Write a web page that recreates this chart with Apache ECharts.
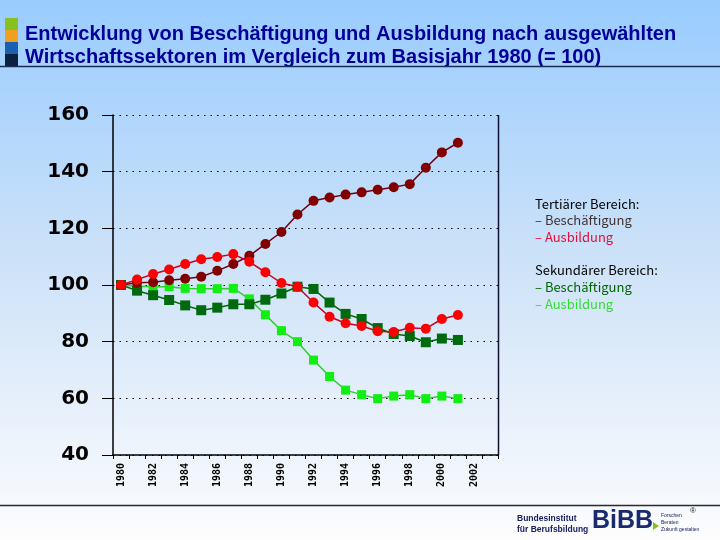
<!DOCTYPE html>
<html>
<head>
<meta charset="utf-8">
<script src="https://cdn.jsdelivr.net/npm/echarts@6/dist/echarts.min.js"></script>
<style>
html,body{margin:0;padding:0;}
#chart{width:720px;height:540px;}
</style>
</head>
<body>
<div id="chart"></div>
<script>
// Categories (years) and tick labels
const years = ['1980','1981','1982','1983','1984','1985','1986','1987','1988','1989','1990','1991','1992','1993','1994','1995','1996','1997','1998','1999','2000','2001','2002','2003'];
const yTicks = [40, 60, 80, 100, 120, 140, 160];

// Series values (index 1980 = 100), 1980..2001
const tertiaerBeschaeftigung = [100, 100.8, 101.0, 101.7, 102.2, 102.9, 105.0, 107.4, 110.3, 114.5, 118.7, 124.9, 129.7, 130.9, 131.9, 132.7, 133.6, 134.5, 135.6, 141.4, 146.8, 150.2];
const tertiaerAusbildung = [100, 101.9, 103.9, 105.5, 107.4, 109.1, 109.9, 110.9, 108.2, 104.5, 100.7, 99.4, 93.8, 88.8, 86.5, 85.5, 83.7, 83.4, 84.9, 84.6, 88.0, 89.4];
const sekundaerBeschaeftigung = [100, 98.0, 96.4, 94.7, 92.8, 91.1, 92.0, 93.2, 93.2, 94.8, 97.0, 99.4, 98.6, 93.8, 89.8, 88.0, 84.8, 82.7, 82.0, 79.8, 81.1, 80.6];
const sekundaerAusbildung = [100, 99.6, 99.4, 99.4, 98.8, 98.7, 98.7, 98.8, 95.1, 89.5, 83.9, 80.0, 73.5, 67.7, 62.9, 61.3, 59.9, 60.8, 61.3, 59.9, 60.8, 59.9];

const titleLines = ['Entwicklung von Beschäftigung und Ausbildung nach ausgewählten', 'Wirtschaftssektoren im Vergleich zum Basisjahr 1980 (= 100)'];

const chart = echarts.init(document.getElementById('chart'), null, {renderer: 'canvas'});

function lineSeries(name, data, lineColor, markColor, symbol, size) {
  return {
    name: name, type: 'line', data: data,
    symbol: symbol, symbolSize: size,
    lineStyle: {color: lineColor, width: 1.5},
    itemStyle: {color: markColor},
    emphasis: {disabled: true},
    animation: false
  };
}

const legendFont = '"Noto Sans CJK JP", "Noto Sans", sans-serif';

const option = {
  backgroundColor: {
    type: 'linear', x: 0, y: 0, x2: 0, y2: 1,
    colorStops: [
      {offset: 0, color: '#99ccff'},
      {offset: 0.5, color: '#cfe3f8'},
      {offset: 0.93, color: '#f6f9fd'},
      {offset: 1, color: '#fdfdfd'}
    ]
  },
  animation: false,
  grid: {left: 113, right: 222, top: 115, bottom: 85, containLabel: false},
  xAxis: {
    type: 'category', data: years, boundaryGap: true,
    axisLine: {lineStyle: {color: '#000', width: 1.5}},
    axisTick: {show: true, interval: 0, length: 4, lineStyle: {color: '#000'}},
    axisLabel: {interval: 1, rotate: 90, margin: 8, fontSize: 10, fontWeight: 'bold', color: '#000', fontFamily: '"DejaVu Sans Mono", monospace'},
    splitLine: {show: false}
  },
  yAxis: {
    type: 'value', min: yTicks[0], max: yTicks[yTicks.length - 1], interval: 20,
    axisLine: {show: true, lineStyle: {color: '#000', width: 1.5}},
    axisTick: {show: true, length: 11, lineStyle: {color: '#000'}},
    axisLabel: {margin: 24, fontSize: 20, fontWeight: 'bold', color: '#000', fontFamily: '"DejaVu Sans", sans-serif'},
    splitLine: {show: true, lineStyle: {color: '#000', width: 1, type: [1.5, 5]}}
  },
  series: [
    lineSeries('Sekundär Ausbildung', sekundaerAusbildung, '#33cc33', '#11ee11', 'rect', 9),
    lineSeries('Sekundär Beschäftigung', sekundaerBeschaeftigung, '#006600', '#006a10', 'rect', 10),
    lineSeries('Tertiär Beschäftigung', tertiaerBeschaeftigung, '#700010', '#800000', 'circle', 10),
    lineSeries('Tertiär Ausbildung', tertiaerAusbildung, '#cc0022', '#ff0000', 'circle', 10)
  ],
  graphic: [
    // colour blocks at title
    {type: 'rect', shape: {x: 5, y: 18, width: 13, height: 12}, style: {fill: '#88c020'}},
    {type: 'rect', shape: {x: 5, y: 30, width: 13, height: 12}, style: {fill: '#f0a020'}},
    {type: 'rect', shape: {x: 5, y: 42, width: 13, height: 12}, style: {fill: '#1a60b0'}},
    {type: 'rect', shape: {x: 5, y: 54, width: 13, height: 12}, style: {fill: '#0a2040'}},
    {type: 'text', left: 25, top: 24, style: {text: titleLines[0], fill: '#000099', font: 'bold 20px "Liberation Sans", sans-serif'}},
    {type: 'text', left: 25, top: 47, style: {text: titleLines[1], fill: '#000099', font: 'bold 20px "Liberation Sans", sans-serif'}},
    {type: 'line', shape: {x1: 0, y1: 66.5, x2: 720, y2: 66.5}, style: {stroke: '#1a2a50', lineWidth: 1.5}},
    // right border of plot
    {type: 'line', shape: {x1: 498.5, y1: 115, x2: 498.5, y2: 455}, style: {stroke: '#101030', lineWidth: 1.5}},
    // legend
    {type: 'text', left: 535, top: 198, style: {text: 'Tertiärer Bereich:', fill: '#000', font: '13px ' + legendFont}},
    {type: 'text', left: 535, top: 214, style: {text: '– Beschäftigung', fill: '#403030', font: '13px ' + legendFont}},
    {type: 'text', left: 535, top: 231, style: {text: '– Ausbildung', fill: '#e0103a', font: '13px ' + legendFont}},
    {type: 'text', left: 535, top: 264, style: {text: 'Sekundärer Bereich:', fill: '#000', font: '13px ' + legendFont}},
    {type: 'text', left: 535, top: 281, style: {text: '– Beschäftigung', fill: '#006400', font: '13px ' + legendFont}},
    {type: 'text', left: 535, top: 298, style: {text: '– Ausbildung', fill: '#33dd33', font: '13px ' + legendFont}},
    // footer
    {type: 'line', shape: {x1: 0, y1: 505.5, x2: 720, y2: 505.5}, style: {stroke: '#2a2a2a', lineWidth: 1.5}},
    {type: 'text', left: 517, top: 514, style: {text: 'Bundesinstitut', fill: '#1a2060', font: 'bold 8.5px "Liberation Sans", sans-serif'}},
    {type: 'text', left: 517, top: 525, style: {text: 'für Berufsbildung', fill: '#1a2060', font: 'bold 8.5px "Liberation Sans", sans-serif'}},
    {type: 'text', left: 592, top: 509, style: {text: 'BiBB', fill: '#1a2a70', font: 'bold 25px "Liberation Sans", sans-serif'}},
    {type: 'polygon', shape: {points: [[653, 522], [653, 530], [659, 526]]}, style: {fill: '#88c020'}},
    {type: 'text', left: 661, top: 512, style: {text: 'Forschen\nBeraten\nZukunft gestalten', fill: '#1a2060', font: '5px "Liberation Sans", sans-serif', lineHeight: 7}},
    {type: 'text', left: 690, top: 507, style: {text: '®', fill: '#222', font: '8px "Liberation Sans", sans-serif'}}
  ]
};
chart.setOption(option);
</script>
</body>
</html>
